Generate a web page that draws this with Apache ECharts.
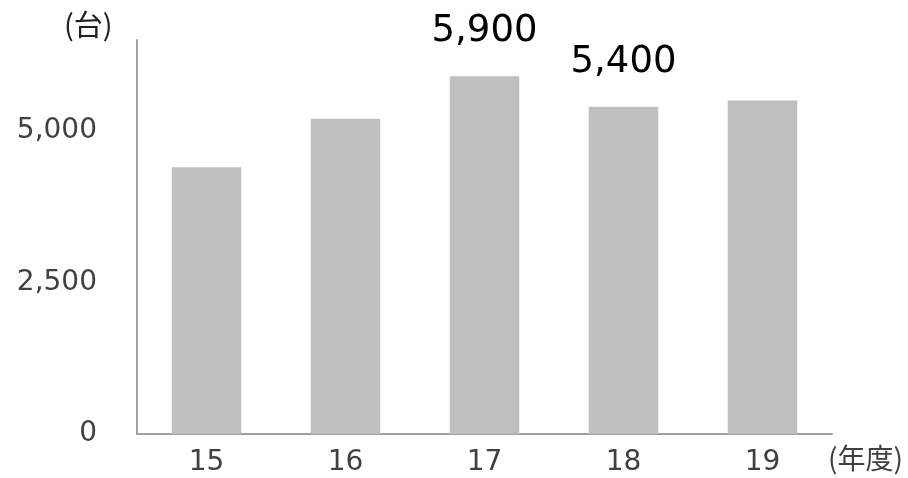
<!DOCTYPE html>
<html><head><meta charset="utf-8">
<script src="https://cdn.jsdelivr.net/npm/echarts@6/dist/echarts.min.js"></script>
<style>html,body{margin:0;padding:0;background:#fff}#c{width:908px;height:478px}</style>
</head><body><div id="c"></div>
<script>
const categories = ['15', '16', '17', '18', '19'];
const values = [4400, 5200, 5900, 5400, 5500];
const labeled = [false, false, true, true, false];
const yTicks = [0, 2500, 5000];
const yUnit = '(台)';
const xUnit = '(年度)';

const chart = echarts.init(document.getElementById('c'));
const font = 'DejaVu Sans, Verdana, sans-serif';
chart.setOption({
  animation: false,
  grid: { left: 137, right: 76, top: 40, bottom: 44 },
  xAxis: {
    type: 'category', data: categories,
    axisLine: { lineStyle: { color: '#a0a0a0', width: 2 } },
    axisTick: { show: false },
    axisLabel: { color: '#404040', fontSize: 28, fontFamily: font, margin: 15 }
  },
  yAxis: {
    type: 'value', min: 0, max: 6500, interval: 2500,
    splitLine: { show: false },
    axisLine: { show: true, lineStyle: { color: '#a0a0a0', width: 2 } },
    axisTick: { show: false },
    axisLabel: {
      color: '#404040', fontSize: 28, fontFamily: font, margin: 40, showMaxLabel: false,
      formatter: v => yTicks.includes(v) ? v.toLocaleString('en-US') : ''
    }
  },
  series: [{
    type: 'bar', barWidth: '50%',
    itemStyle: { color: '#bfbfbf' },
    data: values.map((v, i) => ({
      value: v,
      label: { show: labeled[i], position: 'top', distance: 26, color: '#000', fontSize: 37, fontFamily: font,
        formatter: p => p.value.toLocaleString('en-US') }
    }))
  }],
  graphic: [
    { type: 'text', left: 64, top: 10, style: { text: yUnit, fontSize: 29, fill: '#202020', fontFamily: 'Noto Sans CJK JP, sans-serif' } },
    { type: 'text', left: 828, top: 444, style: { text: xUnit, fontSize: 28, fill: '#404040', fontFamily: 'Noto Sans CJK JP, sans-serif' } }
  ]
});
</script></body></html>
